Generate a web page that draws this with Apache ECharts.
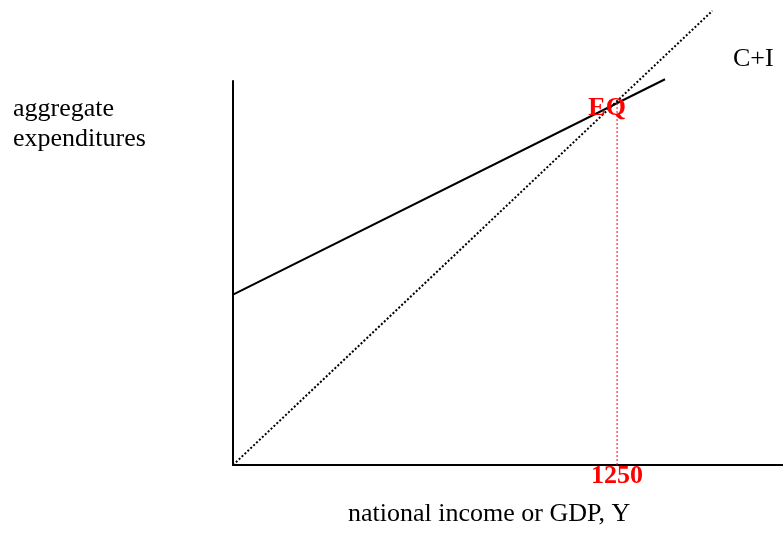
<!DOCTYPE html>
<html>
<head>
<meta charset="utf-8">
<script src="https://cdn.jsdelivr.net/npm/echarts@6/dist/echarts.min.js"></script>
<style>
  html, body { margin: 0; padding: 0; background: #fff; }
  #chart { width: 783px; height: 534px; }
</style>
</head>
<body>
<div id="chart"></div>
<script>
    // 45 degree line: Y = AE
    var lineX = [0, 1560];
    var lineY = [0, 1560];
    // C+I schedule
    var ciX = [0, 1406];
    var ciY = [585, 1325];
    // equilibrium
    var eqX = 1250;
    var eqY = 1250;
    var tickValues = [1250];

    var serif = '"Liberation Serif", "Times New Roman", serif';

    var myChart = echarts.init(document.getElementById('chart'));

    var option = {
        animation: false,
        backgroundColor: '#fff',
        grid: {
            left: 233,
            right: 0,
            top: 81,
            bottom: 69,
            containLabel: false
        },
        xAxis: {
            type: 'value',
            min: 0,
            max: 1790,
            axisLine: { show: true, onZero: true, lineStyle: { color: '#000', width: 2 } },
            axisTick: { show: false },
            splitLine: { show: false },
            axisLabel: {
                customValues: tickValues,
                formatter: function (v) { return String(v); },
                color: '#ff0000',
                fontWeight: 'bold',
                fontSize: 26,
                fontFamily: serif,
                margin: -2
            }
        },
        yAxis: {
            type: 'value',
            min: 0,
            max: 1319,
            axisLine: { show: true, lineStyle: { color: '#000', width: 2 } },
            axisTick: { show: false },
            splitLine: { show: false },
            axisLabel: { show: false }
        },
        series: [
            {
                name: '45',
                type: 'line',
                clip: false,
                symbol: 'none',
                data: lineX.map(function (x, i) { return [x, lineY[i]]; }),
                lineStyle: { color: '#000', width: 2, type: [2, 2] }
            },
            {
                name: 'C+I',
                type: 'line',
                clip: false,
                symbol: 'none',
                data: ciX.map(function (x, i) { return [x, ciY[i]]; }),
                lineStyle: { color: '#000', width: 2 }
            },
            {
                name: 'eqline',
                type: 'line',
                clip: false,
                symbol: 'none',
                data: [[eqX, 0], [eqX, eqY]],
                lineStyle: { color: '#ff0000', width: 1, type: [2, 2] }
            },
            {
                name: 'EQ',
                type: 'scatter',
                clip: false,
                symbolSize: 0,
                itemStyle: { opacity: 1 },
                data: [[eqX, eqY]],
                label: {
                    show: true,
                    position: 'inside',
                    formatter: 'EQ',
                    offset: [-10, 7],
                    color: '#ff0000',
                    opacity: 1,
                    fontWeight: 'bold',
                    fontSize: 26,
                    fontFamily: serif
                },
                z: 10
            }
        ],
        graphic: [
            {
                type: 'text',
                left: 13,
                top: 94,
                style: {
                    text: 'aggregate\nexpenditures',
                    fill: '#000',
                    font: '26px ' + serif,
                    lineHeight: 30
                }
            },
            {
                type: 'text',
                left: 733,
                top: 46,
                style: { text: 'C+I', fill: '#000', font: '26px ' + serif }
            },
            {
                type: 'text',
                left: 348,
                top: 501,
                style: { text: 'national income or GDP, Y', fill: '#000', font: '26px ' + serif }
            }
        ]
    };

    myChart.setOption(option);
</script>
</body>
</html>
